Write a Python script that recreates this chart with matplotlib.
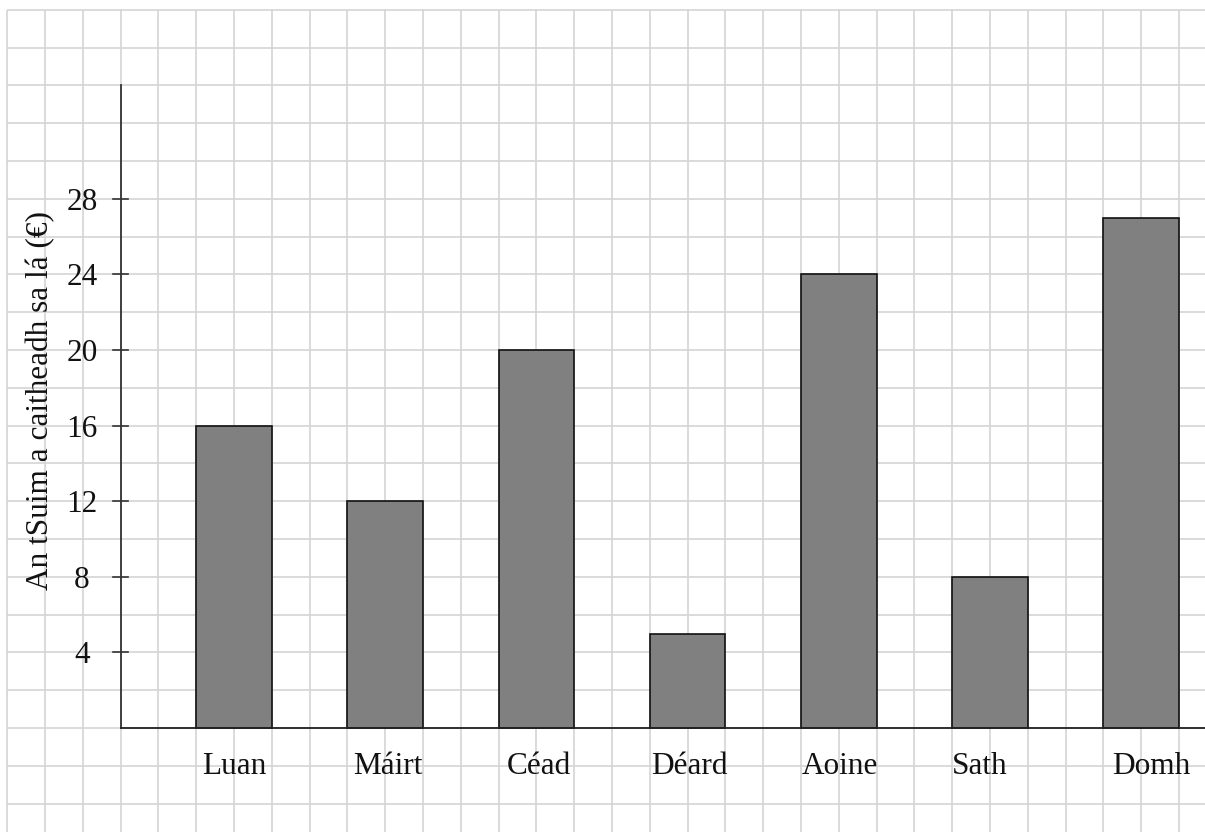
import matplotlib
matplotlib.use("Agg")
import matplotlib.pyplot as plt
import numpy as np

# ---- data ----
days = ["Luan", "Máirt", "Céad", "Déard", "Aoine", "Sath", "Domh"]
spent = [16, 12, 20, 5, 24, 8, 27]
y_ticks = [4, 8, 12, 16, 20, 24, 28]
y_label = "An tSuim a caitheadh sa lá (€)"

# ---- layout (pixels) ----
W, H = 1205, 834
PX_CAT = 151.2      # pixels per category step
PX_UNIT = 18.9      # pixels per euro
X0 = 234.0          # pixel x of first category centre
Y0 = 728.0          # pixel y of value 0
label_dx_px = [0, 3, 2, 2, 1, -10, 10]

def dx(px):
    return px / PX_CAT

def dy(px):
    return px / PX_UNIT

FONT = "Liberation Serif"
FS = 22.5

fig = plt.figure(figsize=(W / 100, H / 100), dpi=100)
ax = fig.add_axes([0, 0, 1, 1])
ax.set_axis_off()
ax.set_xlim(-X0 / PX_CAT, (W - X0) / PX_CAT)
ax.set_ylim(-(H - Y0) / PX_UNIT, Y0 / PX_UNIT)

# ---- graph-paper grid ----
gx_left = -1.5
gx_right = 6.75
gy_bottom = -5.5
gy_top = 38
grid_c = "#d4d4d4"
for gx in np.arange(gx_left, gx_right + 1e-9, 0.25):
    ax.plot([gx, gx], [gy_bottom, gy_top], color=grid_c, lw=1.2, zorder=0,
            solid_capstyle="butt")
for gy in np.arange(-4, gy_top + 1e-9, 2):
    ax.plot([gx_left, gx_right], [gy, gy], color=grid_c, lw=1.2, zorder=0,
            solid_capstyle="butt")

# ---- bars ----
xs = np.arange(len(days))
ax.bar(xs, spent, width=0.5, color="#808080", edgecolor="#111111",
       linewidth=1.2, zorder=3)

# ---- axes lines ----
axis_x = -0.75
ax.plot([axis_x, axis_x], [0, 34], color="#333333", lw=1.3, zorder=4)
ax.plot([axis_x, gx_right], [0, 0], color="#222222", lw=1.3, zorder=4)

# ---- y ticks ----
for t in y_ticks:
    ax.plot([axis_x - dx(8), axis_x + dx(7)], [t, t], color="#333333",
            lw=1.2, zorder=4)
    ax.text(-(X0 - 82) / PX_CAT, t, str(t), ha="center", va="center_baseline",
            fontsize=FS, family=FONT, color="#111111")

# ---- category labels ----
for i, (d, off) in enumerate(zip(days, label_dx_px)):
    ax.text(i + dx(off), -dy(774 - Y0), d, ha="center", va="baseline",
            fontsize=FS, family=FONT, color="#111111")

# ---- y label ----
ax.text(-(X0 - 41) / PX_CAT, (Y0 - 400) / PX_UNIT, y_label, rotation=90,
        ha="center", va="center", fontsize=FS, family=FONT, color="#111111")

fig.savefig("out.png", dpi=100)
